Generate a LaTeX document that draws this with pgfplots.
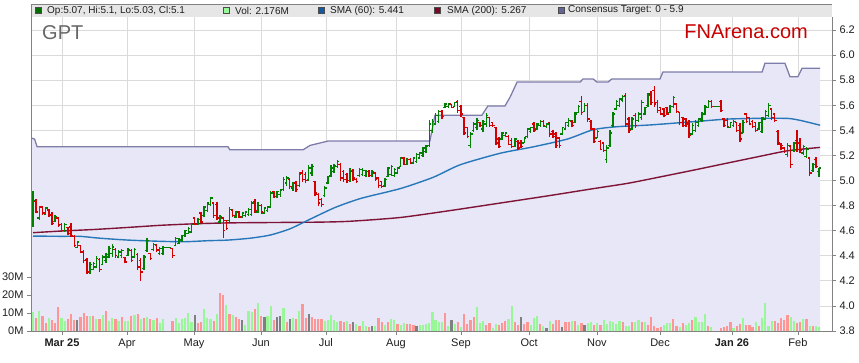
\documentclass[border=0pt]{standalone}
\usepackage{fontspec}
\setmainfont{Liberation Sans}
\usepackage{pgfplots}
\usepackage{pgfplotstable}
\pgfplotsset{compat=1.18}
\definecolor{upc}{RGB}{0,128,0}
\definecolor{dnc}{RGB}{210,0,0}
\definecolor{volg}{RGB}{152,248,152}
\definecolor{volr}{RGB}{255,150,150}
\definecolor{volx}{RGB}{128,128,128}
\definecolor{sixty}{RGB}{40,120,185}
\definecolor{twoh}{RGB}{128,20,55}
\definecolor{conc}{RGB}{125,125,170}
\definecolor{lav}{RGB}{231,231,247}
\definecolor{gridc}{RGB}{218,218,218}
\definecolor{axisgray}{RGB}{130,130,130}
\definecolor{hdrc}{RGB}{230,230,230}
\definecolor{labc}{RGB}{30,30,30}
\definecolor{opc}{RGB}{0,110,0}
\definecolor{volleg}{RGB}{152,248,152}
\definecolor{smaleg}{RGB}{20,90,160}
\definecolor{twoleg}{RGB}{120,10,40}
\definecolor{conleg}{RGB}{100,100,150}

\pgfplotstableread{
i o h l c v vc
0 4.66 4.92 4.63 4.84 10.5 1
1 4.83 4.85 4.74 4.75 7.4 -1
2 4.70 4.80 4.685 4.79 10.9 1
3 4.79 4.80 4.725 4.74 8.3 -1
4 4.73 4.79 4.725 4.78 4.3 -1
5 4.765 4.77 4.71 4.72 7.0 1
6 4.73 4.75 4.645 4.66 5.9 -1
7 4.675 4.725 4.67 4.71 4.3 -1
8 4.70 4.71 4.63 4.64 13.1 -1
9 4.65 4.66 4.59 4.60 7.0 1
10 4.60 4.665 4.59 4.65 5.6 1
11 4.625 4.63 4.565 4.575 6.5 -1
12 4.63 4.66 4.55 4.56 9.3 -1
13 4.555 4.565 4.47 4.48 6.1 -1
14 4.465 4.52 4.46 4.51 5.9 0
15 4.48 4.485 4.42 4.43 7.6 -1
16 4.43 4.445 4.34 4.36 9.8 -1
17 4.37 4.38 4.255 4.27 8.1 -1
18 4.27 4.35 4.255 4.33 8.1 1
19 4.29 4.35 4.285 4.34 8.1 -1
20 4.31 4.40 4.30 4.38 6.5 1
21 4.37 4.38 4.27 4.29 6.5 -1
22 4.33 4.405 4.325 4.39 8.7 1
23 4.36 4.425 4.345 4.41 11.1 -1
24 4.39 4.48 4.38 4.46 5.6 1
25 4.42 4.49 4.39 4.47 7.0 1
26 4.45 4.46 4.385 4.40 6.8 -1
27 4.39 4.445 4.38 4.43 5.6 1
28 4.40 4.45 4.38 4.44 7.6 -1
29 4.385 4.39 4.34 4.35 5.6 1
30 4.40 4.46 4.40 4.45 5.6 1
31 4.44 4.45 4.35 4.36 8.1 -1
32 4.39 4.465 4.38 4.45 8.7 1
33 4.41 4.42 4.285 4.31 9.3 -1
34 4.36 4.38 4.20 4.27 6.7 1
35 4.30 4.405 4.285 4.39 7.0 -1
36 4.44 4.54 4.43 4.52 8.0 1
37 4.42 4.425 4.37 4.38 6.5 -1
38 4.45 4.50 4.44 4.49 5.9 1
39 4.48 4.495 4.43 4.445 7.0 -1
40 4.42 4.47 4.405 4.46 4.3 1
41 4.42 4.475 4.41 4.465 6.8 1
42 4.465 4.465 4.465 4.465 0 1
43 4.465 4.465 4.465 4.465 0 1
44 4.46 4.465 4.385 4.40 5.4 -1
45 4.48 4.55 4.475 4.54 7.4 1
46 4.50 4.54 4.495 4.53 4.3 1
47 4.52 4.565 4.51 4.56 6.5 1
48 4.56 4.605 4.55 4.60 7.0 1
49 4.58 4.63 4.575 4.62 10.2 1
50 4.59 4.66 4.58 4.65 4.8 1
51 4.70 4.71 4.645 4.65 8.7 0
52 4.65 4.70 4.645 4.69 4.3 -1
53 4.74 4.745 4.66 4.67 4.8 -1
54 4.72 4.80 4.71 4.79 12.0 1
55 4.76 4.83 4.75 4.82 7.4 1
56 4.81 4.87 4.80 4.86 6.5 1
57 4.82 4.83 4.70 4.72 5.4 -1
58 4.81 4.825 4.685 4.70 9.3 1
59 4.67 4.725 4.66 4.71 21.1 -1
60 4.70 4.71 4.54 4.60 19.8 -1
61 4.68 4.685 4.605 4.62 14.2 1
62 4.68 4.79 4.67 4.77 9.3 -1
63 4.765 4.77 4.71 4.72 8.7 1
64 4.71 4.76 4.70 4.75 7.6 -1
65 4.75 4.76 4.70 4.71 6.5 -1
66 4.71 4.75 4.70 4.74 5.9 0
67 4.72 4.76 4.71 4.75 3.1 1
68 4.73 4.78 4.72 4.77 10.9 1
69 4.73 4.84 4.72 4.82 10.5 1
70 4.83 4.85 4.74 4.76 12.0 -1
71 4.75 4.83 4.74 4.80 15.4 1
72 4.80 4.81 4.73 4.75 8.1 -1
73 4.74 4.79 4.735 4.78 7.6 0
74 4.76 4.80 4.75 4.79 8.1 1
75 4.79 4.92 4.79 4.90 13.7 1
76 4.91 4.92 4.86 4.87 6.1 -1
77 4.87 4.92 4.86 4.91 7.6 0
78 4.89 4.93 4.87 4.92 8.1 0
79 4.93 5.03 4.92 5.01 12.6 1
80 4.98 5.04 4.96 5.02 4.8 -1
81 5.01 5.02 4.93 4.95 6.5 0
82 4.94 4.99 4.92 4.98 7.0 1
83 4.98 5.00 4.91 4.93 6.5 -1
84 4.96 5.07 4.95 5.05 11.1 1
85 5.06 5.08 4.99 5.01 14.8 -1
86 5.05 5.07 4.98 5.00 7.0 -1
87 5.01 5.12 5.00 5.10 9.3 0
88 5.06 5.13 5.04 5.11 7.6 -1
89 4.99 5.00 4.88 4.90 6.5 -1
90 4.89 4.90 4.80 4.82 6.5 -1
91 4.85 4.86 4.79 4.81 6.5 -1
92 4.88 4.96 4.87 4.94 5.4 1
93 4.98 5.04 4.97 5.03 5.9 1
94 5.04 5.12 5.03 5.10 8.7 1
95 5.07 5.13 5.06 5.12 5.9 1
96 5.11 5.16 5.10 5.15 4.8 1
97 5.13 5.14 5.00 5.02 5.4 -1
98 5.07 5.08 4.99 5.01 4.8 -1
99 5.05 5.06 4.98 5.00 5.4 1
100 5.00 5.10 4.99 5.08 3.7 -1
101 5.07 5.09 5.00 5.02 4.8 0
102 5.01 5.02 4.98 4.99 3.7 1
103 5.04 5.10 5.03 5.09 2.6 -1
104 5.05 5.10 5.04 5.08 5.4 1
105 5.04 5.08 5.03 5.07 2.6 1
106 5.07 5.08 5.03 5.04 2.0 -1
107 5.04 5.08 5.03 5.07 2.6 0
108 5.06 5.07 5.00 5.01 2.6 1
109 5.02 5.03 4.94 4.96 7.0 -1
110 4.99 5.00 4.94 4.95 4.8 -1
111 4.96 5.02 4.95 5.01 3.1 1
112 5.03 5.11 5.03 5.10 4.8 -1
113 5.05 5.12 5.04 5.11 6.5 1
114 5.04 5.10 5.03 5.09 5.9 1
115 5.06 5.11 5.05 5.10 3.7 -1
116 5.11 5.19 5.11 5.18 3.1 1
117 5.18 5.19 5.12 5.13 4.3 1
118 5.13 5.18 5.12 5.17 3.7 -1
119 5.17 5.18 5.13 5.14 3.7 -1
120 5.14 5.19 5.13 5.18 3.1 -1
121 5.15 5.22 5.14 5.21 2.6 0
122 5.18 5.23 5.17 5.22 3.1 1
123 5.20 5.27 5.19 5.26 3.1 1
124 5.23 5.28 5.22 5.27 3.7 1
125 5.28 5.48 5.27 5.45 4.3 1
126 5.40 5.49 5.38 5.47 10.4 1
127 5.45 5.54 5.44 5.52 5.9 1
128 5.47 5.56 5.46 5.55 4.8 1
129 5.55 5.56 5.49 5.51 4.8 1
130 5.58 5.62 5.58 5.61 9.8 -1
131 5.59 5.62 5.58 5.61 2.6 1
132 5.61 5.61 5.58 5.58 5.9 0
133 5.59 5.63 5.59 5.62 3.7 1
134 5.63 5.64 5.54 5.56 4.8 -1
135 5.59 5.60 5.51 5.53 2.0 1
136 5.50 5.51 5.36 5.38 9.3 -1
137 5.42 5.43 5.34 5.35 3.7 -1
138 5.28 5.39 5.26 5.37 5.9 -1
139 5.40 5.47 5.39 5.45 7.6 -1
140 5.42 5.50 5.40 5.48 13.1 1
141 5.46 5.47 5.43 5.44 4.3 1
142 5.41 5.48 5.39 5.47 5.4 1
143 5.45 5.54 5.43 5.52 3.1 -1
144 5.50 5.51 5.43 5.44 4.3 -1
145 5.46 5.47 5.43 5.44 1.5 1
146 5.42 5.43 5.28 5.30 3.7 1
147 5.33 5.35 5.26 5.27 3.1 -1
148 5.33 5.39 5.32 5.38 4.3 -1
149 5.36 5.39 5.35 5.38 5.4 -1
150 5.35 5.36 5.28 5.29 6.5 1
151 5.32 5.34 5.26 5.27 13.7 1
152 5.27 5.34 5.27 5.33 4.8 -1
153 5.31 5.32 5.24 5.26 3.1 -1
154 5.30 5.32 5.26 5.27 7.6 0
155 5.30 5.35 5.30 5.34 3.7 -1
156 5.35 5.42 5.34 5.41 4.8 -1
157 5.39 5.43 5.38 5.42 3.1 1
158 5.45 5.47 5.39 5.40 7.0 1
159 5.41 5.46 5.40 5.45 8.1 1
160 5.44 5.48 5.43 5.47 3.7 -1
161 5.47 5.48 5.43 5.44 2.6 1
162 5.43 5.46 5.42 5.45 1.5 0
163 5.46 5.47 5.35 5.37 5.4 1
164 5.39 5.40 5.34 5.35 3.7 -1
165 5.37 5.39 5.26 5.28 5.9 -1
166 5.34 5.35 5.26 5.28 5.9 -1
167 5.37 5.43 5.36 5.42 2.0 0
168 5.41 5.47 5.40 5.46 4.8 -1
169 5.44 5.50 5.43 5.48 4.8 -1
170 5.47 5.48 5.43 5.44 5.4 1
171 5.46 5.55 5.46 5.53 5.4 -1
172 5.54 5.60 5.54 5.59 3.1 1
173 5.63 5.67 5.52 5.54 4.3 -1
174 5.55 5.62 5.55 5.60 3.1 0
175 5.60 5.62 5.47 5.49 4.3 1
176 5.47 5.48 5.40 5.41 4.8 1
177 5.41 5.42 5.30 5.31 3.1 -1
178 5.34 5.40 5.34 5.39 4.3 1
179 5.31 5.32 5.24 5.25 3.1 -1
180 5.30 5.31 5.23 5.24 5.9 1
181 5.17 5.28 5.14 5.26 3.7 1
182 5.28 5.40 5.27 5.38 5.4 1
183 5.44 5.55 5.43 5.53 4.8 1
184 5.57 5.64 5.56 5.63 3.7 1
185 5.60 5.66 5.59 5.65 5.4 1
186 5.64 5.68 5.63 5.67 4.8 -1
187 5.68 5.70 5.43 5.45 2.6 1
188 5.49 5.51 5.38 5.40 2.6 1
189 5.41 5.51 5.40 5.49 4.8 -1
190 5.52 5.54 5.42 5.44 4.8 1
191 5.48 5.55 5.47 5.53 5.9 1
192 5.50 5.64 5.48 5.62 4.8 -1
193 5.53 5.59 5.52 5.58 4.8 1
194 5.60 5.70 5.59 5.68 3.1 -1
195 5.69 5.71 5.60 5.62 7.6 -1
196 5.72 5.75 5.59 5.61 2.6 -1
197 5.62 5.64 5.54 5.56 1.5 -1
198 5.58 5.59 5.52 5.53 2.0 -1
199 5.57 5.58 5.51 5.52 3.1 1
200 5.58 5.59 5.52 5.53 4.3 1
201 5.54 5.60 5.54 5.59 4.3 1
202 5.59 5.67 5.58 5.66 6.5 -1
203 5.61 5.62 5.54 5.55 2.6 -1
204 5.54 5.55 5.44 5.46 2.0 1
205 5.50 5.51 5.43 5.44 4.3 -1
206 5.49 5.50 5.43 5.45 3.1 1
207 5.46 5.48 5.34 5.36 4.3 1
208 5.37 5.46 5.36 5.44 5.9 -1
209 5.40 5.48 5.39 5.46 7.6 1
210 5.44 5.50 5.43 5.49 4.8 1
211 5.48 5.55 5.47 5.53 4.8 1
212 5.53 5.60 5.52 5.59 9.3 1
213 5.58 5.64 5.58 5.63 2.6 -1
214 5.63 5.64 5.58 5.59 2.0 1
215 5.59 5.59 5.59 5.59 0 1
216 5.59 5.59 5.59 5.59 0 1
217 5.63 5.64 5.55 5.56 1.5 -1
218 5.49 5.50 5.43 5.44 2.0 -1
219 5.48 5.50 5.42 5.43 2.6 -1
220 5.42 5.47 5.42 5.46 4.8 -1
221 5.44 5.48 5.43 5.47 1.5 1
222 5.46 5.47 5.39 5.40 2.6 -1
223 5.44 5.46 5.31 5.33 3.7 -1
224 5.38 5.48 5.38 5.46 7.0 1
225 5.53 5.54 5.46 5.47 3.1 -1
226 5.50 5.51 5.44 5.45 3.1 -1
227 5.47 5.48 5.42 5.43 2.0 -1
228 5.46 5.47 5.39 5.40 4.8 1
229 5.41 5.47 5.40 5.46 2.6 -1
230 5.39 5.51 5.38 5.50 7.0 1
231 5.49 5.56 5.48 5.55 15.5 1
232 5.52 5.62 5.51 5.60 2.6 1
233 5.57 5.58 5.48 5.50 5.4 1
234 5.53 5.54 5.47 5.48 5.4 -1
235 5.39 5.40 5.28 5.30 4.3 -1
236 5.29 5.30 5.24 5.28 7.0 -1
237 5.26 5.27 5.22 5.23 6.3 -1
238 5.21 5.30 5.19 5.28 8.7 -1
239 5.27 5.28 5.10 5.13 7.6 1
240 5.24 5.31 5.23 5.30 5.4 1
241 5.32 5.40 5.23 5.25 4.3 -1
242 5.30 5.34 5.22 5.24 4.8 -1
243 5.22 5.28 5.20 5.27 6.5 1
244 5.19 5.27 5.18 5.25 6.5 -1
245 5.18 5.19 5.04 5.06 2.6 1
246 5.08 5.14 5.07 5.13 2.6 -1
247 5.17 5.19 5.10 5.11 3.0 1
248 5.07 5.10 5.03 5.10 2.2 1
}\data

\begin{document}
\begin{tikzpicture}
\path[use as bounding box] (0,0) rectangle (859bp,363bp);
\begin{axis}[
  at={(31bp,32bp)}, anchor=south west, scale only axis,
  width=801bp, height=314bp,
  xmin=-0.63, xmax=252.05, ymin=3.8, ymax=6.304,
  axis x line*=bottom, axis y line*=right,
  axis line style={draw=axisgray, line width=0.8bp},
  tick align=outside, major tick length=4bp,
  tick style={draw=axisgray, line width=0.8bp},
  xtick={9.15,29.65,50.8,71.9,92.4,114.5,135.0,156.5,177.9,197.8,220.5,241.3},
  xticklabels={\textbf{Mar 25},Apr,May,Jun,Jul,Aug,Sep,Oct,Nov,Dec,\textbf{Jan 26},Feb},
  ytick={3.8,4.0,4.2,4.4,4.6,4.8,5.0,5.2,5.4,5.6,5.8,6.0,6.2},
  yticklabels={3.8,4.0,4.2,4.4,4.6,4.8,5.0,5.2,5.4,5.6,5.8,6.0,6.2},
  grid=major, grid style={draw=gridc, line width=0.8bp},
  tick label style={font=\fontsize{11bp}{13bp}\selectfont, text=labc},
]
% consensus target area
\addplot[fill=lav, draw=none, forget plot] coordinates {
(-0.63,3.8) (-0.63,5.34) (0.5,5.33) (1.3,5.27) (61.5,5.27) (62.1,5.245) (85.2,5.245) (87.4,5.28) (93.1,5.315) (125.2,5.315) (126.8,5.52) (141.6,5.52) (143.5,5.595) (148.9,5.595) (150.5,5.665) (152.7,5.785) (172.6,5.785) (173.5,5.81) (176.7,5.81) (177.9,5.785) (181.4,5.785) (182.6,5.81) (197.8,5.81) (198.7,5.865) (230,5.865) (230.9,5.935) (237.2,5.935) (238.8,5.828) (241.3,5.828) (242.6,5.895) (248.3,5.895) (248.3,3.8)} -- cycle;
\addplot[draw=conc, line width=1.3bp, forget plot] coordinates {
(-0.63,5.34) (0.5,5.33) (1.3,5.27) (61.5,5.27) (62.1,5.245) (85.2,5.245) (87.4,5.28) (93.1,5.315) (125.2,5.315) (126.8,5.52) (141.6,5.52) (143.5,5.595) (148.9,5.595) (150.5,5.665) (152.7,5.785) (172.6,5.785) (173.5,5.81) (176.7,5.81) (177.9,5.785) (181.4,5.785) (182.6,5.81) (197.8,5.81) (198.7,5.865) (230,5.865) (230.9,5.935) (237.2,5.935) (238.8,5.828) (241.3,5.828) (242.6,5.895) (248.3,5.895)};
% SMA 200
\addplot[draw=twoh, line width=1.4bp, smooth, tension=0.4, forget plot] coordinates {
(0,4.584) (8.8,4.597) (19.6,4.61) (30,4.626) (40.4,4.643) (51.1,4.655) (61.5,4.662) (74.8,4.665) (90,4.668) (100,4.675) (115.8,4.705) (131.5,4.76) (147.3,4.82) (163,4.88) (176.7,4.935) (187.7,4.978) (198.1,5.03) (208.8,5.085) (219.2,5.14) (229.7,5.195) (238.2,5.238) (248.3,5.264)};
% SMA 60
\addplot[draw=sixty, line width=1.4bp, smooth, tension=0.4, forget plot] coordinates {
(0,4.557) (8.8,4.555) (14.8,4.555) (21.1,4.54) (30,4.525) (40.4,4.515) (48,4.512) (55.2,4.52) (61.5,4.525) (68.5,4.54) (74.8,4.565) (81.1,4.615) (87.7,4.695) (95.3,4.785) (103.5,4.858) (115.8,4.935) (126.2,5.025) (134.7,5.125) (147.3,5.217) (157.7,5.268) (168.5,5.33) (176.7,5.405) (184.2,5.429) (194.6,5.443) (208.8,5.47) (219.2,5.49) (229.7,5.496) (238.2,5.495) (242.3,5.478) (248.3,5.441)};
% OHLC up bars
\addplot[draw=none, mark=none, forget plot,
  restrict expr to domain={\thisrow{c}-\thisrow{o}}{0:1},
  error bars/.cd, y dir=plus, y explicit, error mark=none,
  error bar style={draw=upc, line width=1.4bp}]
  table[x=i, y=l, y error expr=\thisrow{h}-\thisrow{l}] {\data};
\addplot[draw=none, mark=none, forget plot,
  restrict expr to domain={\thisrow{c}-\thisrow{o}}{0:1},
  error bars/.cd, x dir=minus, x fixed=0.65, error mark=none,
  error bar style={draw=upc, line width=1.3bp}]
  table[x=i, y=o] {\data};
\addplot[draw=none, mark=none, forget plot,
  restrict expr to domain={\thisrow{c}-\thisrow{o}}{0:1},
  error bars/.cd, x dir=plus, x fixed=0.65, error mark=none,
  error bar style={draw=upc, line width=1.3bp}]
  table[x=i, y=c] {\data};
% OHLC down bars
\addplot[draw=none, mark=none, forget plot,
  restrict expr to domain={\thisrow{c}-\thisrow{o}}{-1:-0.001},
  error bars/.cd, y dir=plus, y explicit, error mark=none,
  error bar style={draw=dnc, line width=1.4bp}]
  table[x=i, y=l, y error expr=\thisrow{h}-\thisrow{l}] {\data};
\addplot[draw=none, mark=none, forget plot,
  restrict expr to domain={\thisrow{c}-\thisrow{o}}{-1:-0.001},
  error bars/.cd, x dir=minus, x fixed=0.65, error mark=none,
  error bar style={draw=dnc, line width=1.3bp}]
  table[x=i, y=o] {\data};
\addplot[draw=none, mark=none, forget plot,
  restrict expr to domain={\thisrow{c}-\thisrow{o}}{-1:-0.001},
  error bars/.cd, x dir=plus, x fixed=0.65, error mark=none,
  error bar style={draw=dnc, line width=1.3bp}]
  table[x=i, y=c] {\data};
\end{axis}
\begin{axis}[
  at={(31bp,32bp)}, anchor=south west, scale only axis,
  width=801bp, height=314bp,
  xmin=-0.63, xmax=252.05, ymin=0, ymax=174.4,
  axis x line*=bottom, axis y line*=left, xtick=\empty,
  axis line style={draw=axisgray, line width=0.8bp},
  tick align=outside, major tick length=4bp,
  tick style={draw=axisgray, line width=0.8bp},
  ytick={0,10,20,30}, yticklabels={0M,10M,20M,30M},
  tick label style={font=\fontsize{11bp}{13bp}\selectfont, text=labc},
]
\addplot[ycomb, draw=volg, line width=2.2bp, mark=none,
  restrict expr to domain={\thisrow{vc}}{0.5:1.5}] table[x=i, y=v] {\data};
\addplot[ycomb, draw=volr, line width=2.2bp, mark=none,
  restrict expr to domain={\thisrow{vc}}{-1.5:-0.5}] table[x=i, y=v] {\data};
\addplot[ycomb, draw=volx, line width=2.2bp, mark=none,
  restrict expr to domain={\thisrow{vc}}{-0.5:0.5}] table[x=i, y=v] {\data};
\end{axis}
% header
\fill[hdrc] (31bp,346bp) rectangle (832bp,359bp);
\draw[axisgray, line width=0.8bp] (31bp,346bp) -- (31bp,359bp) -- (832bp,359bp);
\tikzset{legtxt/.style={anchor=west, inner sep=0pt, text=labc, font=\fontsize{10bp}{12bp}\selectfont}}
\draw[black!70, fill=opc] (35bp,349.5bp) rectangle (41bp,355.5bp);
\node[legtxt] at (47bp,352.5bp) {Op:5.07, Hi:5.1, Lo:5.03, Cl:5.1};
\draw[black!70, fill=volleg] (223bp,349.5bp) rectangle (229bp,355.5bp);
\node[legtxt] at (235bp,352.5bp) {Vol: 2.176M};
\draw[black!70, fill=smaleg] (318bp,349.5bp) rectangle (324bp,355.5bp);
\node[legtxt] at (330bp,352.5bp) {SMA (60): 5.441};
\draw[black!70, fill=twoleg] (434bp,349.5bp) rectangle (440bp,355.5bp);
\node[legtxt] at (447bp,352.5bp) {SMA (200): 5.267};
\draw[black!70, fill=conleg] (558bp,349.5bp) rectangle (564bp,355.5bp);
\node[legtxt] at (568bp,352.5bp) {Consensus Target: 0 - 5.9};
\node[anchor=west, inner sep=0pt, text=black!60, font=\fontsize{20bp}{22bp}\selectfont] at (42bp,330.5bp) {GPT};
\node[anchor=east, inner sep=0pt, text={rgb,255:red,200;green,0;blue,0}, font=\fontsize{20bp}{22bp}\selectfont] at (808bp,331bp) {FNArena.com};
\end{tikzpicture}
\end{document}
